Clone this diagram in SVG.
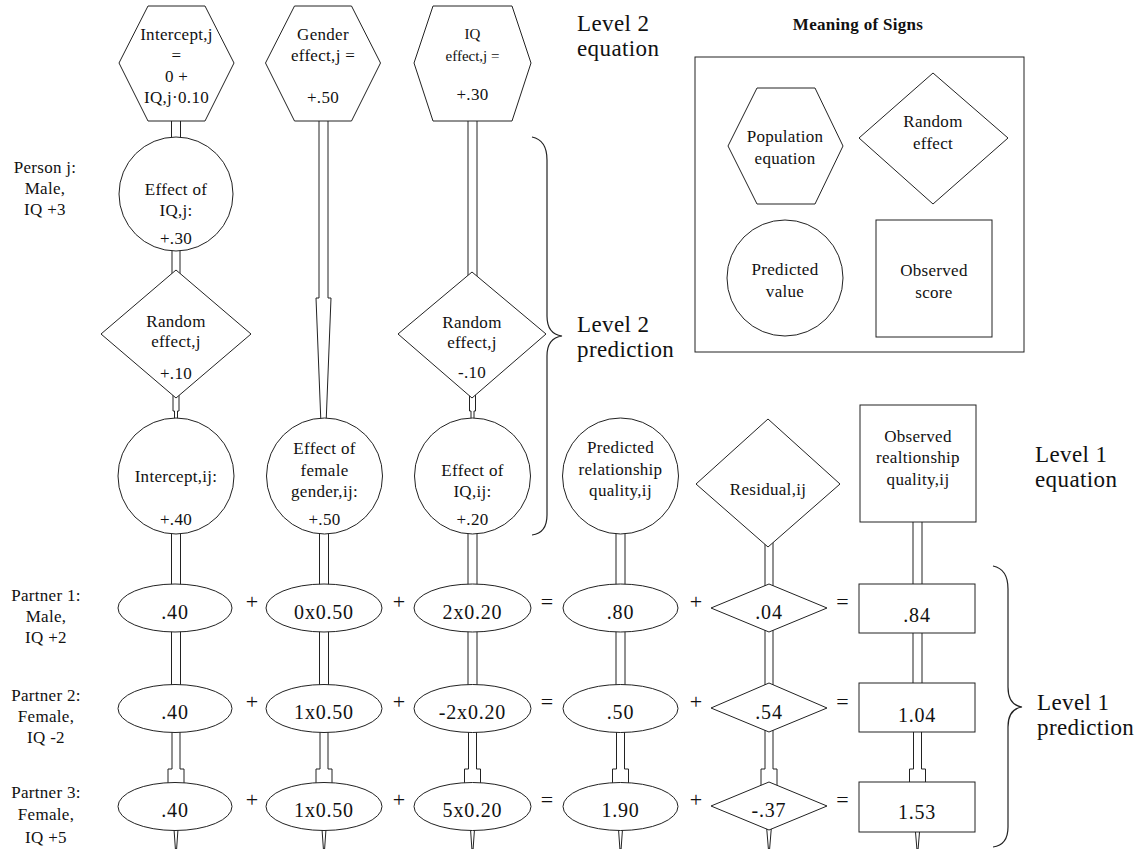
<svg xmlns="http://www.w3.org/2000/svg" width="1148" height="849" viewBox="0 0 1148 849">
<style>
.s{fill:#fff;stroke:#222;stroke-width:1}
.c{fill:#fff;stroke:#222;stroke-width:1}
.b{fill:none;stroke:#222;stroke-width:1.2}
text{font-family:'Liberation Serif','DejaVu Serif','Times New Roman',serif;fill:#111}
.t{font-size:17px;text-anchor:middle;letter-spacing:0.3px}
.sm{font-size:15px;text-anchor:middle}
.v{font-size:20px;text-anchor:middle;letter-spacing:0.8px}
.o{font-size:22px;text-anchor:middle}
.L{font-size:23px;letter-spacing:0.4px}
.h{font-size:17px;font-weight:bold;text-anchor:middle;letter-spacing:0.3px}
</style>
<rect width="1148" height="849" fill="#fff"/>

<g id="connectors">
  <rect class="c" x="171.5" y="115" width="9" height="30"/>
  <rect class="c" x="172" y="245" width="8" height="35"/>
  <path class="c" d="M173,390 L179,390 L179,411 L177.5,411 L177.5,425 L174.5,425 L174.5,411 L173,411 Z"/>
  <path class="c" d="M319,115 L328,115 L328,298 L331,298 L326,425 L321,425 L316,298 L319,298 Z"/>
  <rect class="c" x="468" y="115" width="9" height="170"/>
  <path class="c" d="M469.5,390 L475.5,390 L475.5,411 L474,411 L474,425 L471,425 L471,411 L469.5,411 Z"/>
  <g id="col1-lower">
    <rect class="c" x="171.5" y="528" width="9" height="62"/>
    <rect class="c" x="171.5" y="626" width="9" height="64"/>
    <path class="c" d="M172,726 L180,726 L180,769 L184,769 L184,790 L168,790 L168,769 L172,769 Z"/>
    <path class="c" d="M173.5,822 L178.5,822 L176.6,849 L175.4,849 Z"/>
  </g>
  <g id="col2-lower">
    <rect class="c" x="319.5" y="528" width="9" height="62"/>
    <rect class="c" x="319.5" y="626" width="9" height="64"/>
    <path class="c" d="M320,726 L328,726 L328,769 L332,769 L332,790 L316,790 L316,769 L320,769 Z"/>
    <path class="c" d="M321.5,822 L326.5,822 L324.6,849 L323.4,849 Z"/>
  </g>
  <g id="col3-lower">
    <rect class="c" x="468" y="528" width="9" height="62"/>
    <rect class="c" x="468" y="626" width="9" height="64"/>
    <path class="c" d="M468.5,726 L476.5,726 L476.5,769 L480.5,769 L480.5,790 L464.5,790 L464.5,769 L468.5,769 Z"/>
    <path class="c" d="M470,822 L475,822 L473.1,849 L471.9,849 Z"/>
  </g>
  <g id="col4-lower">
    <rect class="c" x="616" y="528" width="9" height="62"/>
    <rect class="c" x="616" y="626" width="9" height="64"/>
    <path class="c" d="M616.5,726 L624.5,726 L624.5,769 L628.5,769 L628.5,790 L612.5,790 L612.5,769 L616.5,769 Z"/>
    <path class="c" d="M618,822 L623,822 L621.1,849 L619.9,849 Z"/>
  </g>
  <g id="col5-lower">
    <rect class="c" x="765" y="540" width="8" height="50"/>
    <rect class="c" x="765" y="626" width="8" height="64"/>
    <path class="c" d="M765,726 L773,726 L773,769 L777,769 L777,790 L761,790 L761,769 L765,769 Z"/>
    <path class="c" d="M766.5,826 L771.5,826 L769.6,849 L768.4,849 Z"/>
  </g>
  <g id="col6-lower">
    <rect class="c" x="913" y="516" width="9" height="74"/>
    <rect class="c" x="913" y="626" width="9" height="64"/>
    <path class="c" d="M913.5,726 L921.5,726 L921.5,769 L925.5,769 L925.5,790 L909.5,790 L909.5,769 L913.5,769 Z"/>
    <path class="c" d="M915,826 L920,826 L918.1,849 L916.9,849 Z"/>
  </g>
</g>

<g id="hex-intercept">
  <polygon class="s" points="148,6 205,6 234,63 205,121 148,121 119,63"/>
  <text class="t" x="176.5" y="40">Intercept,j</text>
  <text class="t" x="176.5" y="61">=</text>
  <text class="t" x="176.5" y="82">0 +</text>
  <text class="t" x="176.5" y="103">IQ,j·0.10</text>
</g>
<g id="hex-gender">
  <polygon class="s" points="294.5,6 351.5,6 380.5,63 351.5,121 294.5,121 265.5,63"/>
  <text class="t" x="323" y="40">Gender</text>
  <text class="t" x="323" y="61">effect,j =</text>
  <text class="t" x="323" y="103">+.50</text>
</g>
<g id="hex-iq">
  <polygon class="s" points="433,6 512,6 531,63 512,121 433,121 414,63"/>
  <text class="sm" x="472.5" y="39">IQ</text>
  <text class="sm" x="472.5" y="61">effect,j =</text>
  <text class="t" x="472.5" y="100">+.30</text>
</g>

<g id="circle-iq-j">
  <circle class="s" cx="176" cy="194" r="57"/>
  <text class="t" x="176" y="195">Effect of</text>
  <text class="t" x="176" y="216">IQ,j:</text>
  <text class="t" x="176" y="244">+.30</text>
</g>
<g id="diamond-re-1">
  <polygon class="s" points="176,270 251,334 176,398 101,334"/>
  <text class="t" x="176" y="327">Random</text>
  <text class="t" x="176" y="347">effect,j</text>
  <text class="t" x="176" y="379">+.10</text>
</g>
<g id="diamond-re-3">
  <polygon class="s" points="472,272 546,334 472,398 398,334"/>
  <text class="t" x="472" y="328">Random</text>
  <text class="t" x="472" y="348">effect,j</text>
  <text class="t" x="472" y="378">-.10</text>
</g>

<g id="circle-intercept-ij">
  <circle class="s" cx="176" cy="476" r="58"/>
  <text class="t" x="176" y="482">Intercept,ij:</text>
  <text class="t" x="176" y="525">+.40</text>
</g>
<g id="circle-gender-ij">
  <circle class="s" cx="324.5" cy="476" r="58"/>
  <text class="t" x="324.5" y="454">Effect of</text>
  <text class="t" x="324.5" y="476">female</text>
  <text class="t" x="324.5" y="497">gender,ij:</text>
  <text class="t" x="324.5" y="525">+.50</text>
</g>
<g id="circle-iq-ij">
  <circle class="s" cx="472.5" cy="476" r="58"/>
  <text class="t" x="472.5" y="476">Effect of</text>
  <text class="t" x="472.5" y="497">IQ,ij:</text>
  <text class="t" x="472.5" y="525">+.20</text>
</g>
<g id="circle-predicted">
  <circle class="s" cx="620.5" cy="476" r="58"/>
  <text class="t" x="620.5" y="453">Predicted</text>
  <text class="t" x="620.5" y="475">relationship</text>
  <text class="t" x="620.5" y="496">quality,ij</text>
</g>
<g id="diamond-residual">
  <polygon class="s" points="768,419 840,484 768,547 696,484"/>
  <text class="t" x="768" y="495">Residual,ij</text>
</g>
<g id="square-observed">
  <rect class="s" x="860" y="405" width="116" height="117"/>
  <text class="t" x="918" y="442">Observed</text>
  <text class="t" x="918" y="463">realtionship</text>
  <text class="t" x="918" y="485">quality,ij</text>
</g>

<g id="row1">
  <ellipse class="s" cx="175" cy="608" rx="57" ry="24"/>
  <text class="v" x="175" y="619">.40</text>
  <ellipse class="s" cx="324" cy="608" rx="58" ry="24"/>
  <text class="v" x="324" y="619">0x0.50</text>
  <ellipse class="s" cx="472.5" cy="608" rx="58.5" ry="24"/>
  <text class="v" x="472.5" y="619">2x0.20</text>
  <ellipse class="s" cx="620.5" cy="608" rx="57.5" ry="24"/>
  <text class="v" x="620.5" y="619">.80</text>
  <polygon class="s" points="769,584 827,608 769,632 711,608"/>
  <text class="v" x="769" y="619">.04</text>
  <rect class="s" x="859" y="584" width="116" height="49"/>
  <text class="v" x="917" y="622">.84</text>
</g>
<g id="row2">
  <ellipse class="s" cx="175" cy="708.5" rx="57" ry="24"/>
  <text class="v" x="175" y="719">.40</text>
  <ellipse class="s" cx="324" cy="708.5" rx="58" ry="24"/>
  <text class="v" x="324" y="719">1x0.50</text>
  <ellipse class="s" cx="472.5" cy="708.5" rx="58.5" ry="24"/>
  <text class="v" x="472.5" y="719">-2x0.20</text>
  <ellipse class="s" cx="620.5" cy="708.5" rx="57.5" ry="24"/>
  <text class="v" x="620.5" y="719">.50</text>
  <polygon class="s" points="769,683 827,708 769,732 711,708"/>
  <text class="v" x="769" y="719">.54</text>
  <rect class="s" x="859" y="683" width="116" height="49"/>
  <text class="v" x="917" y="722">1.04</text>
</g>
<g id="row3">
  <ellipse class="s" cx="175" cy="806.5" rx="57" ry="24"/>
  <text class="v" x="175" y="817">.40</text>
  <ellipse class="s" cx="324" cy="806.5" rx="58" ry="24"/>
  <text class="v" x="324" y="817">1x0.50</text>
  <ellipse class="s" cx="472.5" cy="806.5" rx="58.5" ry="24"/>
  <text class="v" x="472.5" y="817">5x0.20</text>
  <ellipse class="s" cx="620.5" cy="806.5" rx="57.5" ry="24"/>
  <text class="v" x="620.5" y="817">1.90</text>
  <polygon class="s" points="769,782 827,806 769,830 711,806"/>
  <text class="v" x="769" y="817">-.37</text>
  <rect class="s" x="859" y="782" width="116" height="50"/>
  <text class="v" x="917" y="819">1.53</text>
</g>

<g id="operators">
  <text class="o" x="252" y="609">+</text>
  <text class="o" x="399" y="609">+</text>
  <text class="o" x="547" y="609">=</text>
  <text class="o" x="696" y="609">+</text>
  <text class="o" x="842.5" y="609">=</text>
  <text class="o" x="252" y="709">+</text>
  <text class="o" x="399" y="709">+</text>
  <text class="o" x="547" y="709">=</text>
  <text class="o" x="696" y="709">+</text>
  <text class="o" x="842.5" y="709">=</text>
  <text class="o" x="252" y="807">+</text>
  <text class="o" x="399" y="807">+</text>
  <text class="o" x="547" y="807">=</text>
  <text class="o" x="696" y="807">+</text>
  <text class="o" x="842.5" y="807">=</text>
</g>

<g id="row-labels">
  <text class="t" x="45" y="173">Person j:</text>
  <text class="t" x="45" y="194">Male,</text>
  <text class="t" x="45" y="215">IQ +3</text>
  <text class="t" x="46" y="601">Partner 1:</text>
  <text class="t" x="46" y="622">Male,</text>
  <text class="t" x="46" y="643">IQ +2</text>
  <text class="t" x="46" y="701">Partner 2:</text>
  <text class="t" x="46" y="722">Female,</text>
  <text class="t" x="46" y="743">IQ -2</text>
  <text class="t" x="46" y="798">Partner 3:</text>
  <text class="t" x="46" y="820">Female,</text>
  <text class="t" x="46" y="843">IQ +5</text>
</g>

<g id="level-labels">
  <text class="L" x="577" y="31">Level 2</text>
  <text class="L" x="577" y="56">equation</text>
  <text class="L" x="577" y="332">Level 2</text>
  <text class="L" x="577" y="357">prediction</text>
  <text class="L" x="1035" y="462">Level 1</text>
  <text class="L" x="1035" y="487">equation</text>
  <text class="L" x="1037" y="710">Level 1</text>
  <text class="L" x="1037" y="735">prediction</text>
</g>

<g id="braces">
  <path class="b" d="M532,137 Q547,140 547,160 L547,316 Q547,334 562,336 Q547,338 547,356 L547,515 Q547,533 532,535"/>
  <path class="b" d="M993,566 Q1008,569 1008,589 L1008,687 Q1008,705 1022,707 Q1008,709 1008,727 L1008,827 Q1008,845 993,847"/>
</g>

<g id="legend">
  <text class="h" x="858" y="30">Meaning of Signs</text>
  <rect class="s" x="695" y="57" width="329" height="295"/>
  <g id="legend-hex">
    <polygon class="s" points="757,88 815,88 843,146 815,204 757,204 728,146"/>
    <text class="t" x="785" y="142">Population</text>
    <text class="t" x="785" y="164">equation</text>
  </g>
  <g id="legend-diamond">
    <polygon class="s" points="933,73 1008,138 933,204 859,138"/>
    <text class="t" x="933" y="127">Random</text>
    <text class="t" x="933" y="149">effect</text>
  </g>
  <g id="legend-circle">
    <circle class="s" cx="785" cy="278" r="58"/>
    <text class="t" x="785" y="275">Predicted</text>
    <text class="t" x="785" y="297">value</text>
  </g>
  <g id="legend-square">
    <rect class="s" x="876" y="220" width="116" height="117"/>
    <text class="t" x="934" y="276">Observed</text>
    <text class="t" x="934" y="298">score</text>
  </g>
</g>
</svg>
